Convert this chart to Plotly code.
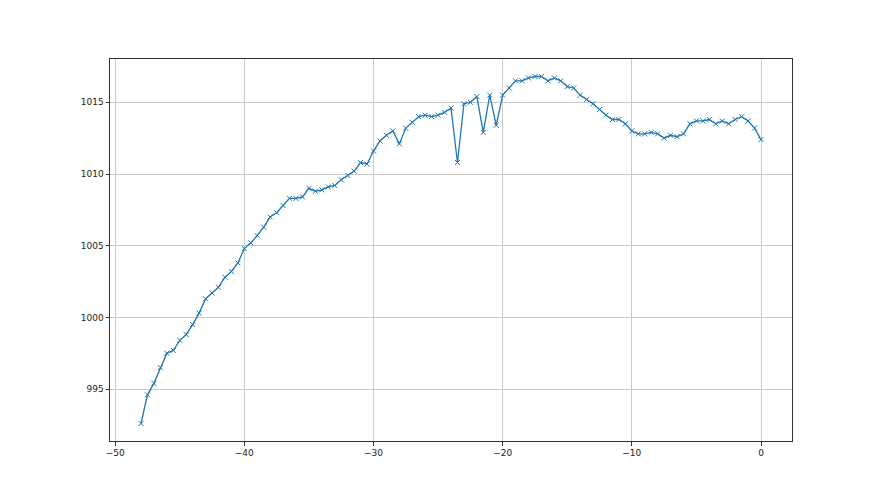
import plotly.graph_objects as go

hours = [-48.0, -47.5, -47.0, -46.5, -46.0, -45.5, -45.0, -44.5, -44.0, -43.5,
         -43.0, -42.5, -42.0, -41.5, -41.0, -40.5, -40.0, -39.5, -39.0, -38.5,
         -38.0, -37.5, -37.0, -36.5, -36.0, -35.5, -35.0, -34.5, -34.0, -33.5,
         -33.0, -32.5, -32.0, -31.5, -31.0, -30.5, -30.0, -29.5, -29.0, -28.5,
         -28.0, -27.5, -27.0, -26.5, -26.0, -25.5, -25.0, -24.5, -24.0, -23.5,
         -23.0, -22.5, -22.0, -21.5, -21.0, -20.5, -20.0, -19.5, -19.0, -18.5,
         -18.0, -17.5, -17.0, -16.5, -16.0, -15.5, -15.0, -14.5, -14.0, -13.5,
         -13.0, -12.5, -12.0, -11.5, -11.0, -10.5, -10.0, -9.5, -9.0, -8.5,
         -8.0, -7.5, -7.0, -6.5, -6.0, -5.5, -5.0, -4.5, -4.0, -3.5,
         -3.0, -2.5, -2.0, -1.5, -1.0, -0.5, 0.0]

pressure = [992.6, 994.6, 995.4, 996.5, 997.5, 997.7, 998.4, 998.8, 999.5, 1000.3,
            1001.3, 1001.7, 1002.1, 1002.8, 1003.2, 1003.8, 1004.8, 1005.2, 1005.7, 1006.3,
            1007.0, 1007.3, 1007.8, 1008.3, 1008.3, 1008.4, 1009.0, 1008.8, 1008.9, 1009.1,
            1009.2, 1009.6, 1009.9, 1010.2, 1010.8, 1010.7, 1011.6, 1012.3, 1012.7, 1013.0,
            1012.1, 1013.2, 1013.6, 1014.0, 1014.1, 1014.0, 1014.1, 1014.3, 1014.6, 1010.8,
            1014.9, 1015.0, 1015.4, 1012.9, 1015.5, 1013.4, 1015.5, 1016.0, 1016.5, 1016.5,
            1016.7, 1016.8, 1016.8, 1016.5, 1016.7, 1016.5, 1016.1, 1016.0, 1015.5, 1015.2,
            1014.9, 1014.5, 1014.1, 1013.8, 1013.8, 1013.5, 1013.0, 1012.8, 1012.8, 1012.9,
            1012.8, 1012.5, 1012.7, 1012.6, 1012.8, 1013.5, 1013.7, 1013.7, 1013.8, 1013.5,
            1013.7, 1013.5, 1013.8, 1014.0, 1013.7, 1013.2, 1012.4]

x_ticks = [-50, -40, -30, -20, -10, 0]
y_ticks = [995, 1000, 1005, 1010, 1015]

fig = go.Figure(go.Scatter(
    x=hours, y=pressure, mode="lines+markers",
    line=dict(color="#1f77b4", width=1.3),
    marker=dict(symbol="x-thin", size=5, line=dict(color="#1f77b4", width=1)),
    showlegend=False,
))

axis_common = dict(
    showline=True, linecolor="#333333", linewidth=1, mirror=True,
    ticks="outside", ticklen=3.5, tickwidth=0.8, tickcolor="#333333",
    showgrid=True, gridcolor="#cbcbcb", gridwidth=0.8, zeroline=False,
    tickfont=dict(family="DejaVu Sans", size=9, color="#222222"),
)

fig.update_xaxes(range=[-50.4, 2.4], tickvals=x_ticks,
                 ticktext=[f"\u2212{abs(v)}" if v < 0 else str(v) for v in x_ticks],
                 **axis_common)
fig.update_yaxes(range=[991.38, 1018.02], tickvals=y_ticks, **axis_common)

fig.update_layout(
    width=880, height=495,
    margin=dict(l=102, r=96, t=51, b=62),
    paper_bgcolor="white", plot_bgcolor="white",
)

fig.write_html("out.html")
